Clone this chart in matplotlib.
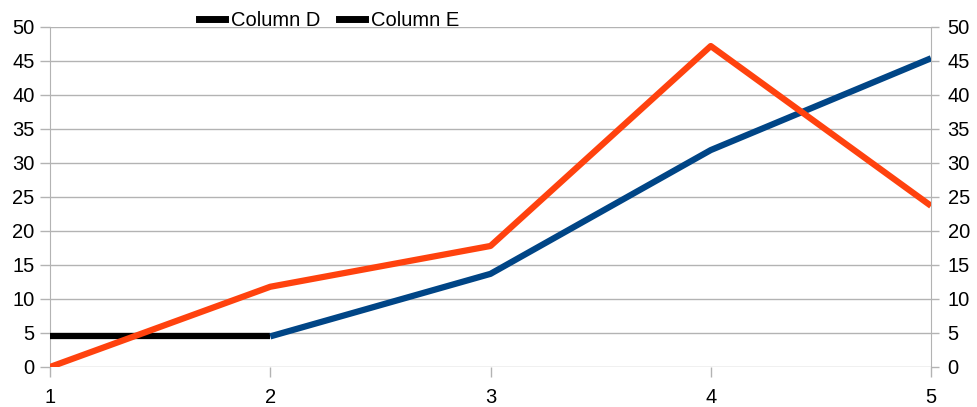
import matplotlib
matplotlib.use("Agg")
import matplotlib.pyplot as plt
from matplotlib.lines import Line2D

plt.rcParams['font.family'] = ['Liberation Sans', 'DejaVu Sans']

x = [1, 2, 3, 4, 5]
col_d = [4.5, 4.5, 13.7, 31.9, 45.4]
col_e = [0, 11.8, 17.8, 47.2, 23.7]
yticks = list(range(0, 51, 5))

fig = plt.figure(figsize=(9.77, 4.07), dpi=100)
ax = fig.add_axes([50 / 977, 40 / 407, 881 / 977, 340 / 407])

grid_c = '#b3b3b3'
for v in yticks:
    ax.axhline(v, color=grid_c, lw=1, zorder=0)

# first segment of column D is drawn in black, rest in blue
ax.plot(x[:2], col_d[:2], color='black', lw=4.5, solid_capstyle='butt', zorder=3)
ax.plot(x[1:], col_d[1:], color='#004586', lw=4.5, solid_capstyle='butt', zorder=3)
ax.plot(x, col_e, color='#ff420e', lw=4.5, solid_capstyle='butt', zorder=4)

ax.set_xlim(1, 5)
ax.set_ylim(0, 50)
ax.set_xticks(x)
ax.set_yticks(yticks)
for s in ['top', 'bottom']:
    ax.spines[s].set_visible(False)
for s in ['left', 'right']:
    ax.spines[s].set_color(grid_c)
ax.tick_params(axis='both', colors=grid_c, labelcolor='black', labelsize=14.5,
               length=7, width=1)
ax.tick_params(axis='x', pad=8)
ax.tick_params(axis='y', pad=4)

ax2 = ax.twinx()
ax2.set_ylim(0, 50)
ax2.set_yticks(yticks)
for s in ['top', 'bottom', 'left', 'right']:
    ax2.spines[s].set_visible(False)
ax2.tick_params(axis='y', colors=grid_c, labelcolor='black', labelsize=14.5,
                length=6, width=1, pad=6)

handles = [Line2D([], [], color='black', lw=5), Line2D([], [], color='black', lw=5)]
fig.legend(handles, ['Column D', 'Column E'], loc='center', bbox_to_anchor=(329 / 977, 1 - 21 / 407),
           ncol=2, frameon=False, fontsize=14.5, handlelength=1.3, handletextpad=0.3,
           columnspacing=0.9, borderpad=0)

fig.savefig('out.png', dpi=100)
